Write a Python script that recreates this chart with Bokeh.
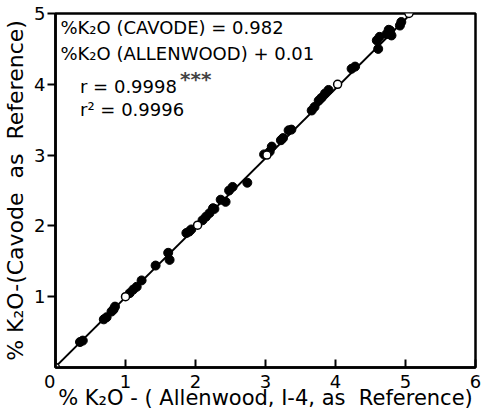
from bokeh.plotting import figure
from bokeh.models import FixedTicker, Label, ColumnDataSource, Range1d
from bokeh.embed import file_html
from bokeh.resources import INLINE

# Data
allenwood = [0.35, 0.39, 0.69, 0.73, 0.80, 0.83, 0.85, 1.06, 1.11, 1.16, 1.23,
             1.43, 1.61, 1.63, 1.87, 1.91, 1.94, 2.10, 2.15, 2.20, 2.25, 2.27,
             2.36, 2.43, 2.48, 2.53, 2.74, 2.98, 3.06, 3.09, 3.22, 3.25, 3.33,
             3.37, 3.66, 3.70, 3.76, 3.80, 3.85, 3.90, 4.23, 4.28, 4.59, 4.61,
             4.63, 4.73, 4.76, 4.78, 4.80, 4.92, 4.94]
cavode = [0.36, 0.38, 0.68, 0.71, 0.79, 0.82, 0.86, 1.05, 1.10, 1.14, 1.23,
          1.44, 1.62, 1.52, 1.90, 1.92, 1.95, 2.08, 2.13, 2.18, 2.25, 2.24,
          2.37, 2.34, 2.50, 2.55, 2.61, 3.01, 3.05, 3.12, 3.21, 3.24, 3.35,
          3.36, 3.63, 3.68, 3.77, 3.81, 3.87, 3.92, 4.22, 4.25, 4.62, 4.50,
          4.67, 4.71, 4.77, 4.76, 4.69, 4.83, 4.88]
std_x = [0.0, 1.0, 2.03, 3.02, 4.03, 5.05]
std_y = [0.0, 1.0, 2.01, 3.00, 4.00, 5.00]
slope = 0.982
intercept = 0.01
line_x = [0.0, 5.08]
line_y = [slope * v + intercept for v in line_x]
x_ticks = [0, 1, 2, 3, 4, 5, 6]
y_ticks = [1, 2, 3, 4, 5]

FONT = "DejaVu Sans"
NB = "\u00a0"

p = figure(width=488, height=412, x_range=Range1d(0, 6), y_range=Range1d(0, 5),
           output_backend="svg", toolbar_location=None,
           min_border_left=55, min_border_right=13, min_border_top=13, min_border_bottom=44)
p.xgrid.visible = False
p.ygrid.visible = False
p.outline_line_color = "black"
p.outline_line_width = 2.5
p.outline_line_alpha = 1.0

p.xaxis.ticker = FixedTicker(ticks=x_ticks)
p.yaxis.ticker = FixedTicker(ticks=y_ticks)
for ax in (p.xaxis, p.yaxis):
    ax.axis_line_width = 2.5
    ax.axis_line_color = "black"
    ax.major_tick_line_width = 2
    ax.major_tick_line_color = "black"
    ax.minor_tick_line_color = None
    ax.major_label_text_font = FONT
    ax.major_label_text_font_size = "18px"
    ax.major_label_text_color = "black"
    ax.axis_label_text_font = FONT
    ax.axis_label_text_font_style = "normal"
    ax.axis_label_text_color = "black"

p.xaxis.major_tick_in = 8
p.xaxis.major_tick_out = 0
p.xaxis.major_label_standoff = 3
p.xaxis.axis_label_standoff = -9
p.xaxis.major_label_overrides = {0: "0" + NB + NB}
p.yaxis.major_tick_in = 0
p.yaxis.major_tick_out = 8
p.yaxis.major_label_standoff = 2
p.yaxis.axis_label_standoff = 3

p.xaxis.axis_label = "% K\u2082O - ( Allenwood, I-4, as" + NB + NB + "Reference)"
p.xaxis.axis_label_text_font_size = "21px"
p.yaxis.axis_label = "% K\u2082O-(Cavode" + NB + NB + "as" + NB + NB + "Reference)"
p.yaxis.axis_label_text_font_size = "22px"

# regression line
p.line(line_x, line_y, line_color="black", line_width=2)

# samples
src = ColumnDataSource(dict(x=allenwood, y=cavode))
p.scatter("x", "y", source=src, size=9, fill_color="black", line_color="black")

# reference standards
p.scatter(std_x, std_y, size=8, fill_color="white", line_color="black", line_width=1.5)

# annotations
ann = dict(text_font=FONT, text_font_size="18px", text_baseline="alphabetic", text_color="black")
p.add_layout(Label(x=0.07, y=4.80, text="%K\u2082O (CAVODE) = 0.982", **ann))
p.add_layout(Label(x=0.07, y=4.43, text="%K\u2082O (ALLENWOOD) + 0.01", **ann))
p.add_layout(Label(x=0.35, y=3.97, text="r = 0.9998", **ann))
p.add_layout(Label(x=1.78, y=4.08, text="***", text_font=FONT, text_font_size="20px",
                   text_baseline="alphabetic", text_font_style="bold"))
p.add_layout(Label(x=0.35, y=3.65, text="r\u00b2 = 0.9996", **ann))

open("out.html", "w").write(file_html(p, INLINE))
